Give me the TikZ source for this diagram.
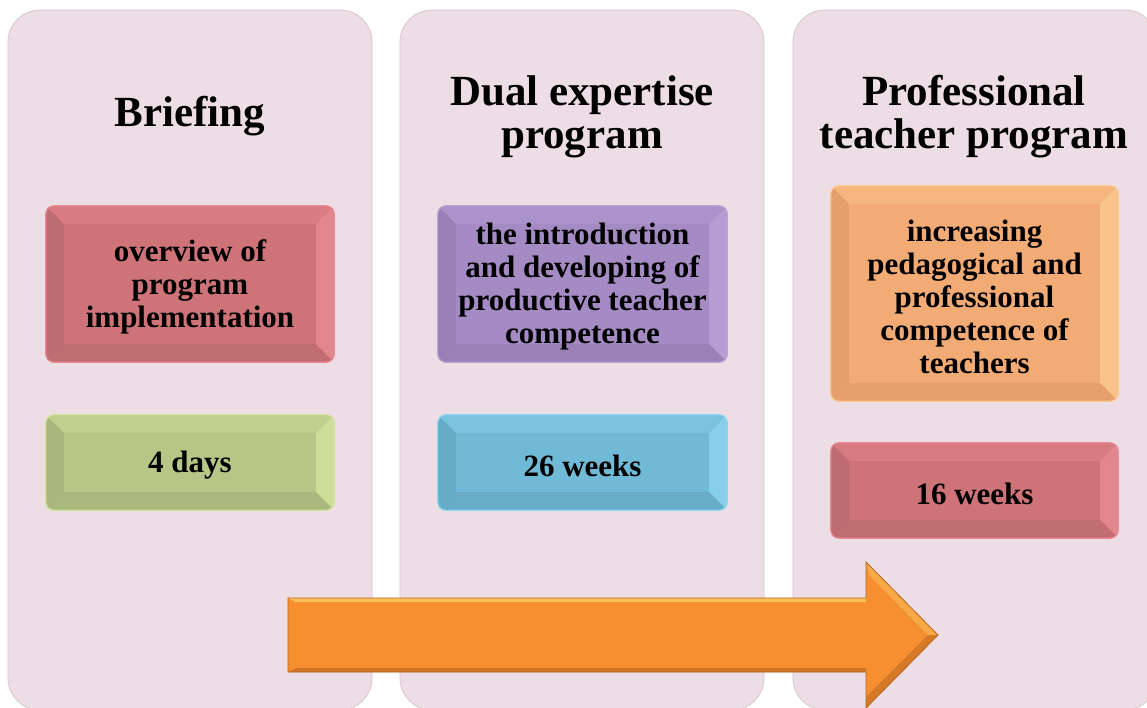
\documentclass[tikz,border=0pt]{standalone}
\usepackage{fontspec}
\setmainfont{Liberation Serif}
\usetikzlibrary{calc,backgrounds}
\pgfdeclarelayer{back}
\pgfsetlayers{back,background,main}
\definecolor{panelc}{HTML}{EDDDE5}
\definecolor{paneld}{HTML}{D9C6CF}
\definecolor{redc}{HTML}{CE7479}
\definecolor{redl}{HTML}{E98B90}
\definecolor{redd}{HTML}{B0666B}
\definecolor{greenc}{HTML}{B7C587}
\definecolor{greenl}{HTML}{D0E39B}
\definecolor{greend}{HTML}{9DAA73}
\definecolor{purc}{HTML}{A58BC4}
\definecolor{purl}{HTML}{B9A0D6}
\definecolor{purd}{HTML}{8C75A8}
\definecolor{bluec}{HTML}{71BAD7}
\definecolor{bluel}{HTML}{8CD5F0}
\definecolor{blued}{HTML}{5E9DB7}
\definecolor{orac}{HTML}{F3AB75}
\definecolor{oral}{HTML}{F9C98B}
\definecolor{orad}{HTML}{D89466}
\definecolor{arrc}{HTML}{F68F2F}
\definecolor{arrl}{HTML}{FDD46A}
\definecolor{arrd}{HTML}{B8651E}
\newcommand\bevelit[4]{%
  \begin{pgfonlayer}{background}
    \coordinate (#1-sw) at ($(#1.south west)+(0,-3)$);
    \coordinate (#1-nw) at ($(#1.north west)+(0,-3)$);
    \coordinate (#1-ne) at ($(#1.north east)+(0,-3)$);
    \coordinate (#1-se) at ($(#1.south east)+(0,-3)$);
    \fill[#2, rounded corners=8pt] (#1-sw) rectangle (#1-ne);
    \begin{scope}
      \clip[rounded corners=8pt] (#1-sw) rectangle (#1-ne);
      \fill[#4, opacity=0.5] (#1-nw) -- ++(18,18) -- ($(#1-sw)+(18,-18)$) -- (#1-sw) -- cycle;
      \fill[#3, opacity=0.35] (#1-nw) -- ++(18,18) -- ($(#1-ne)+(-18,18)$) -- (#1-ne) -- cycle;
      \fill[#3, opacity=0.85] (#1-ne) -- ++(-18,18) -- ($(#1-se)+(-18,-18)$) -- (#1-se) -- cycle;
      \fill[#4, opacity=0.45] (#1-sw) -- ++(18,-18) -- ($(#1-se)+(-18,-18)$) -- (#1-se) -- cycle;
    \end{scope}
    \draw[#3, line width=1.2pt, rounded corners=8pt] (#1-sw) rectangle (#1-ne);
  \end{pgfonlayer}}
\tikzset{
  panel/.style={draw=paneld, line width=0.8pt, fill=panelc, rounded corners=32pt, minimum width=364pt, minimum height=700pt, inner sep=0pt},
  title/.style={align=center, font=\fontsize{43}{43}\selectfont\bfseries, text=black},
  box/.style={align=center, font=\fontsize{31}{33}\selectfont\bfseries, text=black, minimum width=288pt, inner sep=0pt}
}
\begin{document}
\begin{tikzpicture}[x=1pt,y=-1pt]
\useasboundingbox (0,0) rectangle (1147,707);
\clip (0,0) rectangle (1147,707);
\begin{pgfonlayer}{back}
\fill[white] (0,0) rectangle (1147,707);
\node[panel] (p1) at (190,360) {};
\node[panel] (p2) at (582,360) {};
\node[panel] (p3) at (975,360) {};
\end{pgfonlayer}
% titles
\node[title] (t1) at (190,116) {Briefing};
\node[title] (t2) at (582,117) {Dual expertise\\program};
\node[title] (t3) at (974,117) {Professional\\teacher program};
% boxes
\node[box, minimum height=156pt] (b1) at (190,287) {overview of\\program\\implementation};
\bevelit{b1}{redc}{redl}{redd}
\node[box, minimum height=95pt] (b2) at (190,465.5) {4 days};
\bevelit{b2}{greenc}{greenl}{greend}
\node[box, minimum height=156pt, minimum width=289pt] (b3) at (582.5,287) {the introduction\\and developing of\\productive teacher\\competence};
\bevelit{b3}{purc}{purl}{purd}
\node[box, minimum height=95pt, minimum width=289pt] (b4) at (582.5,465.5) {26 weeks};
\bevelit{b4}{bluec}{bluel}{blued}
\node[box, minimum height=215pt, minimum width=287pt] (b5) at (974.5,296.5) {increasing\\pedagogical and\\professional\\competence of\\teachers};
\bevelit{b5}{orac}{oral}{orad}
\node[box, minimum height=95pt, minimum width=287pt] (b6) at (974.5,493.5) {16 weeks};
\bevelit{b6}{redc}{redl}{redd}
% arrow
\fill[arrc] (288,598) -- (866,598) -- (866,562) -- (938,635) -- (866,708) -- (866,672) -- (288,672) -- cycle;
\fill[arrl, opacity=0.7] (288,598) -- (866,598) -- (866,602) -- (296,602) -- cycle;
\fill[arrd, opacity=0.6] (288,672) -- (866,672) -- (866,668) -- (296,668) -- cycle;
\fill[arrd, opacity=0.5] (866,708) -- (938,635) -- (928,635) -- (866,697) -- cycle;
\fill[arrl, opacity=0.4] (866,562) -- (938,635) -- (928,635) -- (870,576) -- cycle;
\draw[arrd, line width=0.8pt, line join=miter] (288,598) -- (866,598) -- (866,562) -- (938,635) -- (866,708) -- (866,672) -- (288,672) -- cycle;
\end{tikzpicture}
\end{document}
